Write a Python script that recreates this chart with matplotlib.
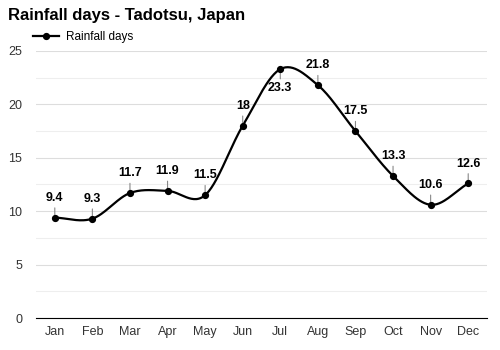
import numpy as np
import matplotlib.pyplot as plt
from matplotlib.lines import Line2D

months = ["Jan", "Feb", "Mar", "Apr", "May", "Jun", "Jul", "Aug", "Sep", "Oct", "Nov", "Dec"]
rain_days = [9.4, 9.3, 11.7, 11.9, 11.5, 18, 23.3, 21.8, 17.5, 13.3, 10.6, 12.6]
labels = ["9.4", "9.3", "11.7", "11.9", "11.5", "18", "23.3", "21.8", "17.5", "13.3", "10.6", "12.6"]


def catmull_rom(x, y, steps=30):
    # smooth curve through every point (uniform Catmull-Rom)
    x = np.asarray(x, float)
    y = np.asarray(y, float)
    px = np.concatenate([[2 * x[0] - x[1]], x, [2 * x[-1] - x[-2]]])
    py = np.concatenate([[2 * y[0] - y[1]], y, [2 * y[-1] - y[-2]]])
    xs, ys = [], []
    t = np.linspace(0, 1, steps, endpoint=False)
    for i in range(1, len(px) - 2):
        for p, out in ((px, xs), (py, ys)):
            p0, p1, p2, p3 = p[i - 1], p[i], p[i + 1], p[i + 2]
            out.extend(0.5 * (2 * p1 + (-p0 + p2) * t
                              + (2 * p0 - 5 * p1 + 4 * p2 - p3) * t ** 2
                              + (-p0 + 3 * p1 - 3 * p2 + p3) * t ** 3))
    xs.append(x[-1])
    ys.append(y[-1])
    return np.array(xs), np.array(ys)


plt.rcParams['font.family'] = ['Liberation Sans', 'DejaVu Sans']

fig = plt.figure(figsize=(5, 3.5), dpi=100)
ax = fig.add_axes([0.072, 0.0914, 0.902, 0.763])

x = np.arange(len(months))
sx, sy = catmull_rom(x, rain_days)
ax.plot(sx, sy, color='black', lw=1.6, zorder=3)
ax.plot(x, rain_days, 'o', color='black', ms=4.2, zorder=4)

for i, (v, lab) in enumerate(zip(rain_days, labels)):
    if lab == "23.3":
        ax.annotate("", xy=(i, v), xytext=(0, -9), textcoords='offset points',
                    arrowprops=dict(arrowstyle='-', color='#888888', lw=0.8))
        ax.annotate(lab, xy=(i, v), xytext=(0, -9), textcoords='offset points',
                    ha='center', va='top', fontsize=9, fontweight='bold')
    else:
        ax.annotate("", xy=(i, v), xytext=(0, 9), textcoords='offset points',
                    arrowprops=dict(arrowstyle='-', color='#888888', lw=0.8))
        ax.annotate(lab, xy=(i, v), xytext=(0, 10), textcoords='offset points',
                    ha='center', va='bottom', fontsize=9, fontweight='bold')

ax.set_xlim(-0.5, 11.5)
ax.set_ylim(0, 25)
ax.set_xticks(x)
ax.set_xticklabels(months)
ax.set_yticks([0, 5, 10, 15, 20, 25])
ax.set_yticks([2.5, 7.5, 12.5, 17.5, 22.5], minor=True)
ax.grid(axis='y', which='major', color='#dddddd', lw=0.8)
ax.grid(axis='y', which='minor', color='#eeeeee', lw=0.8)
ax.set_axisbelow(True)
ax.tick_params(axis='both', which='both', length=0, labelsize=9, colors='#333333')
ax.tick_params(axis='x', pad=6)
ax.tick_params(axis='y', pad=10)
for side in ('top', 'right', 'left'):
    ax.spines[side].set_visible(False)
ax.spines['bottom'].set_color('black')

fig.text(0.016, 0.955, "Rainfall days - Tadotsu, Japan", fontsize=12, fontweight='bold', va='center')
handle = Line2D([], [], color='black', lw=1.6, marker='o', ms=4.2)
fig.legend([handle], ["Rainfall days"], loc='center left', bbox_to_anchor=(0.066, 0.895),
           frameon=False, fontsize=8.5, handlelength=2.2, handletextpad=0.6, borderpad=0, borderaxespad=0)

fig.savefig("out.png", dpi=100)
